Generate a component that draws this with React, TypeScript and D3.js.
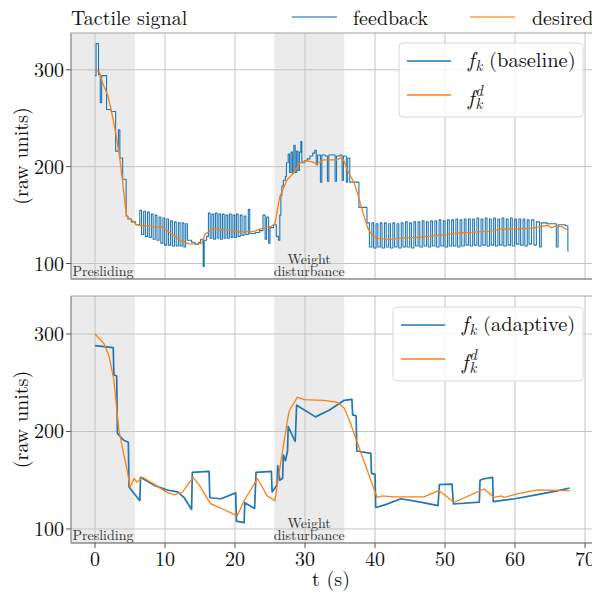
import React from "react";
import * as d3 from "d3";

const W = 592;
const H = 593;
const FONT = `"Latin Modern Roman", "Liberation Serif", serif`;
const BLUE = "#1f77b4";
const ORANGE = "#ff7f0e";

// x ticks (s) and y ticks (raw units)
const xTicks = [0, 10, 20, 30, 40, 50, 60, 70];
const yTicks = [100, 200, 300];

// shaded phases, in seconds
const phases = [
  { from: -3.43, to: 5.7, label: ["Presliding"] },
  { from: 25.6, to: 35.6, label: ["Weight", "disturbance"] },
];

// top panel: baseline feedback (sampled as steps) [t, value]
const baselineFeedback = [
  [0, 294], [0.15, 327], [0.5, 295], [0.75, 266], [0.95, 294], [1.65, 259], [2.3, 257],
  [2.95, 216], [3.35, 238], [3.55, 209], [3.95, 187], [4.45, 149], [4.7, 146], [5.2, 143], [5.8, 140],
  [6.4, 155], [6.65, 130], [6.95, 154], [7.2, 128], [7.5, 153], [7.75, 127], [8.05, 151], [8.3, 125],
  [8.6, 150], [8.85, 124], [9.15, 148], [9.4, 121], [9.7, 147], [9.95, 119], [10.25, 146], [10.5, 119],
  [10.8, 144], [11.05, 118], [11.35, 143], [11.6, 118], [11.9, 142], [12.15, 118], [12.45, 142],
  [12.7, 117], [12.95, 141], [13.2, 124], [13.8, 122], [14.3, 120], [14.8, 122], [15.1, 125],
  [15.45, 97], [15.6, 124], [15.95, 128],
  [16.2, 152], [16.45, 126], [16.7, 151], [16.95, 125], [17.2, 152], [17.45, 126], [17.7, 151],
  [17.95, 125], [18.2, 151], [18.45, 126], [18.7, 150], [18.95, 126], [19.2, 151], [19.45, 127],
  [19.7, 150], [19.95, 127], [20.2, 151], [20.45, 128], [20.75, 150], [21.0, 129], [21.3, 149],
  [21.55, 130], [21.9, 156], [22.1, 131], [22.9, 132], [23.5, 134], [24.0, 150], [24.3, 125],
  [24.5, 148], [24.8, 121], [25.0, 137], [25.5, 140], [25.9, 128], [26.2, 124],
  [26.4, 150], [26.55, 170], [26.7, 180], [26.9, 186], [27.2, 190], [27.35, 204], [27.6, 213],
  [27.8, 194], [28.0, 215], [28.2, 193], [28.4, 222], [28.6, 194], [28.8, 216], [29.0, 196],
  [29.2, 215], [29.4, 226], [29.55, 204], [29.9, 206], [30.3, 208], [30.7, 211], [31.1, 214],
  [31.4, 217], [31.6, 202], [31.8, 212], [32.2, 184], [32.4, 212], [32.9, 211], [33.2, 185],
  [33.4, 212], [34.0, 212], [34.3, 185], [34.5, 211], [35.0, 212], [35.3, 186], [35.5, 211],
  [35.9, 184], [36.1, 209], [36.4, 184], [37.7, 158], [38.85, 142],
  [39.2, 117], [39.55, 142], [39.8, 116], [40.15, 141], [40.4, 117], [40.75, 142], [41.0, 116],
  [41.35, 142], [41.6, 117], [41.95, 141], [42.2, 116], [42.55, 142], [42.8, 117], [43.15, 141],
  [43.4, 116], [43.75, 142], [44.0, 117], [44.35, 143], [44.6, 117], [44.95, 142], [45.2, 116],
  [45.55, 143], [45.8, 118], [46.15, 143], [46.4, 117], [46.75, 144], [47.0, 118], [47.35, 143],
  [47.6, 117], [47.95, 144], [48.2, 118], [48.55, 144], [48.8, 117], [49.15, 145], [49.4, 118],
  [49.75, 144], [50.0, 117], [50.35, 145], [50.6, 118], [50.95, 145], [51.2, 118], [51.55, 146],
  [51.8, 117], [52.15, 145], [52.4, 118], [52.75, 146], [53.0, 119], [53.35, 146], [53.6, 118],
  [53.95, 146], [54.2, 119], [54.55, 147], [54.8, 118], [55.15, 146], [55.4, 119], [55.75, 147],
  [56.0, 118], [56.35, 146], [56.6, 119], [56.95, 147], [57.2, 118], [57.55, 146], [57.8, 119],
  [58.15, 147], [58.4, 118], [58.75, 146], [59.0, 119], [59.35, 147], [59.6, 118], [59.95, 146],
  [60.2, 120], [60.55, 146], [60.8, 119], [61.15, 146], [61.4, 118], [61.75, 145], [62.0, 120],
  [62.35, 145], [62.7, 119], [63.05, 143], [63.5, 117], [63.75, 142], [64.6, 141], [65.9, 117],
  [66.15, 140], [67.2, 139], [67.55, 113], [67.65, 113],
];

// top panel: desired signal
const baselineDesired = [
  [0, 300], [0.6, 298], [1.1, 286], [1.8, 274], [2.3, 259], [3.0, 233], [3.5, 211], [4.0, 181],
  [4.5, 149], [5.0, 146], [5.4, 144], [5.9, 140], [6.6, 139], [7.6, 139], [8.6, 137.5], [9.5, 138],
  [10.5, 133], [11.4, 128], [12.4, 123], [13.4, 120.5], [14.4, 120], [15.3, 121], [15.7, 130],
  [16.3, 133], [16.9, 136.5], [17.8, 135], [18.8, 135], [19.8, 133.5], [20.7, 132.5], [21.6, 133],
  [22.6, 133], [23.4, 135], [24.0, 136.5], [25.0, 138], [25.7, 141], [26.4, 169], [27.4, 186],
  [28.3, 193], [29.3, 204], [30.2, 206], [31.0, 205], [31.7, 203], [32.6, 207], [33.6, 207],
  [34.5, 207], [35.1, 209], [35.5, 207], [36.2, 194], [37.0, 184], [37.6, 170], [38.3, 152],
  [39.0, 136], [39.7, 128.5], [40.4, 126], [42.1, 125], [43.5, 126], [44.5, 126.5], [46, 127],
  [47.5, 128], [49, 129], [50.4, 130], [51.8, 131.5], [53.6, 132], [55, 133], [56.4, 133.5],
  [57.8, 135], [58.3, 136.5], [58.8, 134.5], [59.3, 136], [60.3, 135.5], [61.2, 136], [62.5, 136.5],
  [63.6, 138], [64.7, 139.5], [65.2, 137], [65.8, 138.5], [66.7, 138], [67.4, 135], [67.6, 135],
];

// bottom panel: adaptive feedback
const adaptiveFeedback = [
  [0, 288], [2.6, 286], [2.7, 258], [3.1, 257], [3.2, 198], [4.1, 191], [4.76, 189], [4.86, 143],
  [6.4, 129], [6.5, 153], [8.4, 145], [10.3, 140], [11.8, 138], [12.7, 132.5], [13.8, 120],
  [13.9, 158], [16.3, 159], [16.4, 132], [18.0, 131], [20.1, 137], [20.2, 108], [21.3, 106.5],
  [21.4, 127], [22.8, 121], [23.0, 158], [25.2, 159], [25.3, 138], [26.0, 145], [26.1, 165],
  [26.4, 150], [26.8, 152], [26.9, 176], [27.2, 170], [27.5, 180], [27.6, 205], [28.5, 191],
  [28.6, 190], [28.8, 227], [31.5, 215], [33.5, 222], [35.6, 232], [36.7, 233], [36.8, 217],
  [37.3, 216], [37.4, 180], [39.4, 177.5], [39.5, 157], [40.0, 156], [40.1, 122], [41.5, 125],
  [43.7, 131], [46.5, 127.5], [49.0, 124], [49.2, 145.6], [51.0, 146], [51.2, 125.6],
  [54.9, 127.5], [55.0, 150], [55.6, 151.5], [56.8, 153], [56.9, 128], [60, 131], [63, 135],
  [66, 139], [67.8, 142],
];

// bottom panel: desired signal
const adaptiveDesired = [
  [0, 300], [1.3, 290], [2.0, 277.5], [2.7, 253], [3.4, 201.5], [4.1, 177], [4.6, 160], [5.0, 143],
  [5.6, 151.5], [6.0, 148], [6.8, 153], [8.4, 146], [10.3, 137.6], [11.3, 135], [12.5, 137.6],
  [14.0, 153], [14.9, 145], [16.5, 126], [18.4, 120], [20.3, 113.5], [21.3, 129], [23.2, 151.5],
  [24.6, 134], [25.7, 129], [26.5, 167], [27.7, 220.5], [28.9, 235], [29.9, 232.6], [32.7, 232],
  [34.6, 230], [35.6, 224], [36.5, 208.5], [37.5, 188], [39.4, 150], [40.3, 132.5], [41.0, 134],
  [42.7, 133], [47.0, 133], [49.1, 139.4], [51.3, 127.3], [55.6, 141], [57.0, 132.5],
  [58.0, 134], [58.5, 132.5], [60.3, 136], [63.2, 140], [67.8, 139.4],
];

const x = d3.scaleLinear().domain([-3.43, 72.14]).range([71, 600]);

const panels = [
  {
    top: 33, bottom: 279, domain: [84, 338], fb: baselineFeedback, des: baselineDesired,
    fbCurve: d3.curveStepAfter, fbWidth: 1.1, mode: "baseline", legend: { x: 399, y: 43, w: 184, h: 74 },
  },
  {
    top: 296, bottom: 543, domain: [85.6, 339], fb: adaptiveFeedback, des: adaptiveDesired,
    fbCurve: d3.curveLinear, fbWidth: 1.7, mode: "adaptive", legend: { x: 393, y: 307, w: 190, h: 74 },
  },
];

const txt = { fontFamily: FONT };

// f_k (with optional superscript d) as one text element
const FK = ({ x0, y0, sup }) => (
  <text x={x0} y={y0} style={txt} fill="#111" fontStyle="italic">
    <tspan fontSize={21}>f</tspan>
    <tspan fontSize={15} dx={1} dy={4}>k</tspan>
    {sup && <tspan fontSize={15} dx={-7} dy={-13}>d</tspan>}
  </text>
);

const Panel = ({ p, i }) => {
  const y = d3.scaleLinear().domain(p.domain).range([p.bottom, p.top]);
  const fbLine = d3.line().x((d) => x(d[0])).y((d) => y(d[1])).curve(p.fbCurve);
  const desLine = d3.line().x((d) => x(d[0])).y((d) => y(d[1]));
  const clipId = `clip${i}`;
  const lg = p.legend;
  return (
    <g>
      <defs>
        <clipPath id={clipId}>
          <rect x={71} y={p.top} width={W - 71} height={p.bottom - p.top} />
        </clipPath>
      </defs>
      {phases.map((ph) => (
        <rect key={ph.from} x={x(ph.from)} y={p.top} width={x(ph.to) - x(ph.from)}
          height={p.bottom - p.top} fill="#ebebeb" />
      ))}
      {xTicks.map((t) => (
        <line key={t} x1={x(t)} x2={x(t)} y1={p.top} y2={p.bottom} stroke="#c4c4c4" strokeWidth={1} />
      ))}
      {yTicks.map((t) => (
        <line key={t} x1={71} x2={W} y1={y(t)} y2={y(t)} stroke="#c4c4c4" strokeWidth={1} />
      ))}
      {phases.map((ph) => {
        const cx = (x(ph.from) + x(ph.to)) / 2;
        const n = ph.label.length;
        return (
          <text key={ph.from} x={cx} y={p.bottom - 3 - (n - 1) * 12} textAnchor="middle"
            style={txt} fontSize={14} fill="#333">
            {ph.label.map((s, k) => (
              <tspan key={s} x={cx} dy={k === 0 ? 0 : 12}>{s}</tspan>
            ))}
          </text>
        );
      })}
      <g clipPath={`url(#${clipId})`}>
        <path d={fbLine(p.fb)} fill="none" stroke={BLUE} strokeWidth={p.fbWidth} strokeLinejoin="round" />
        <path d={desLine(p.des)} fill="none" stroke={ORANGE} strokeWidth={1.3} />
      </g>
      <line x1={71} x2={71} y1={p.top} y2={p.bottom} stroke="#808080" strokeWidth={1.2} />
      <line x1={71} x2={W} y1={p.top} y2={p.top} stroke="#a0a0a0" strokeWidth={1.2} />
      <line x1={71} x2={W} y1={p.bottom} y2={p.bottom} stroke="#555" strokeWidth={1.2} />
      {yTicks.map((t) => (
        <g key={t}>
          <line x1={66} x2={71} y1={y(t)} y2={y(t)} stroke="#555" />
          <text x={64} y={y(t) + 7} textAnchor="end" style={txt} fontSize={20} fill="#111">{t}</text>
        </g>
      ))}
      <text transform={`translate(28,${(p.top + p.bottom) / 2}) rotate(-90)`} textAnchor="middle"
        style={txt} fontSize={20} fill="#111">(raw units)</text>
      <rect x={lg.x} y={lg.y} width={lg.w} height={lg.h} rx={4} fill="white" fillOpacity={0.8}
        stroke="#d8d8d8" />
      <line x1={lg.x + 8} x2={lg.x + 52} y1={lg.y + 18} y2={lg.y + 18} stroke={BLUE} strokeWidth={1.6} />
      <line x1={lg.x + 8} x2={lg.x + 52} y1={lg.y + 52} y2={lg.y + 52} stroke={ORANGE} strokeWidth={1.3} />
      <FK x0={lg.x + 69} y0={lg.y + 24} sup={false} />
      <text x={lg.x + 90} y={lg.y + 24} style={txt} fontSize={20.5} fill="#111">({p.mode})</text>
      <FK x0={lg.x + 69} y0={lg.y + 62} sup={true} />
    </g>
  );
};

export default function App() {
  const last = panels[1];
  return (
    <svg width={W} height={H} style={{ position: "absolute", left: 0, top: 0, background: "white" }}>
      <rect width={W} height={H} fill="white" />
      {panels.map((p, i) => <Panel key={i} p={p} i={i} />)}
      {xTicks.map((t) => (
        <g key={t}>
          <line x1={x(t)} x2={x(t)} y1={last.bottom} y2={last.bottom + 5} stroke="#555" />
          <text x={x(t)} y={566} textAnchor="middle" style={txt} fontSize={20} fill="#111">{t}</text>
        </g>
      ))}
      <text x={331} y={586} textAnchor="middle" style={txt} fontSize={20} fill="#111">t (s)</text>
      <text x={71} y={25} style={txt} fontSize={20} fill="#111">Tactile signal</text>
      <line x1={292} x2={337} y1={17} y2={17} stroke={BLUE} strokeOpacity={0.75} strokeWidth={1.6} />
      <text x={353} y={25} style={txt} fontSize={20} fill="#111">feedback</text>
      <line x1={470} x2={515} y1={17} y2={17} stroke={ORANGE} strokeOpacity={0.75} strokeWidth={1.6} />
      <text x={532} y={25} style={txt} fontSize={20} fill="#111">desired</text>
    </svg>
  );
}
